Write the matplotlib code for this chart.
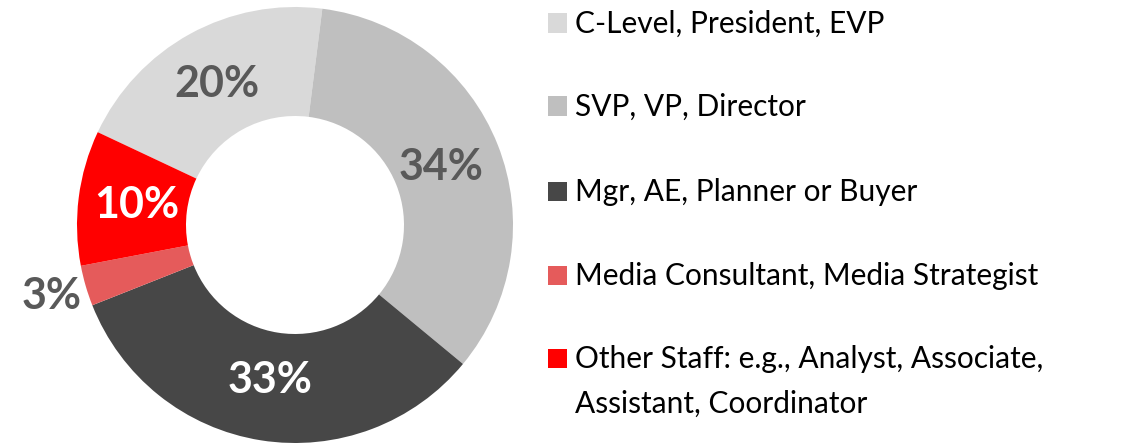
import numpy as np
import matplotlib
matplotlib.use("Agg")
import matplotlib.pyplot as plt
from matplotlib.patches import Rectangle

categories = ["C-Level, President, EVP", "SVP, VP, Director", "Mgr, AE, Planner or Buyer",
              "Media Consultant, Media Strategist", "Other Staff: e.g., Analyst, Associate,\nAssistant, Coordinator"]
values = [20, 34, 33, 3, 10]
pct_labels = ["20%", "34%", "33%", "3%", "10%"]
colors = ["#D9D9D9", "#BFBFBF", "#474747", "#E55B5B", "#FF0000"]
label_colors = ["#595959", "#595959", "#FFFFFF", "#595959", "#FFFFFF"]
label_radius = [0.74, 0.72, 0.72, 1.165, 0.73]

plt.rcParams['font.family'] = ['Lato', 'DejaVu Sans']

W, H = 1145, 443
fig = plt.figure(figsize=(W / 100, H / 100), dpi=100)

# donut axes: centre (295, 225 from top), radius 218 px
cx, cy, R = 295, 225, 218
ax = fig.add_axes([(cx - R) / W, (H - cy - R) / H, 2 * R / W, 2 * R / H])
wedges, _ = ax.pie(values, colors=colors, startangle=154.8, counterclock=False,
                   radius=1.0, wedgeprops=dict(width=0.5, linewidth=0))
ax.set_xlim(-1, 1)
ax.set_ylim(-1, 1)
ax.set_aspect('equal')
ax.axis('off')

for w, lab, col, r in zip(wedges, pct_labels, label_colors, label_radius):
    mid = np.deg2rad((w.theta1 + w.theta2) / 2)
    ax.text(r * np.cos(mid), r * np.sin(mid), lab, ha='center', va='center',
            fontsize=31, fontweight='bold', color=col, clip_on=False)

# legend drawn manually
row_centers = [23, 106, 191, 275, 358]
sq = 19
for cat, col, yc in zip(categories, colors, row_centers):
    fig.patches.append(Rectangle((548 / W, (H - yc - sq / 2) / H), sq / W, sq / H,
                                 transform=fig.transFigure, facecolor=col, edgecolor='none'))
    lines = cat.split("\n")
    for i, line in enumerate(lines):
        base = yc + 10 + i * 45
        fig.text(575 / W, (H - base) / H, line, ha='left', va='baseline',
                 fontsize=21.5, color='black')

fig.savefig("out.png", dpi=100)
